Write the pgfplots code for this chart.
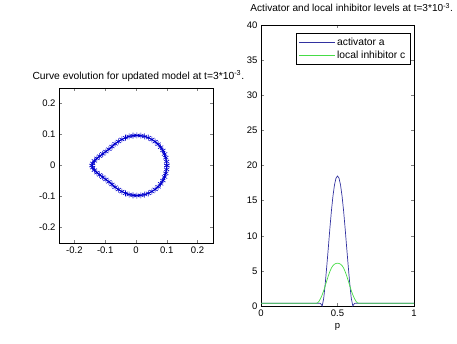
\documentclass[border=0pt]{standalone}
\usepackage{fontspec}
\setmainfont{Liberation Sans}
\usepackage{pgfplots}
\pgfplotsset{compat=1.18}
\definecolor{actblue}{RGB}{50,50,160}
\definecolor{inhgreen}{RGB}{70,220,70}
\definecolor{curveblue}{RGB}{0,0,205}
\pgfplotstableread{
x y
0.100 0.000
0.0992 0.0127
0.0967 0.0251
0.0926 0.0371
0.0870 0.0485
0.0800 0.0591
0.0716 0.0686
0.0621 0.0770
0.0515 0.0840
0.0401 0.0896
0.0281 0.0937
0.0157 0.0962
0.0030 0.0970
-0.0097 0.0962
-0.0221 0.0937
-0.0341 0.0896
-0.046 0.0840
-0.057 0.0775
-0.068 0.0700
-0.078 0.0610
-0.088 0.0525
-0.098 0.0450
-0.108 0.0375
-0.118 0.0300
-0.127 0.0230
-0.135 0.0150
-0.141 0.0070
-0.143 0.0000
-0.141 -0.0070
-0.135 -0.0150
-0.127 -0.0230
-0.118 -0.0300
-0.108 -0.0375
-0.098 -0.0450
-0.088 -0.0525
-0.078 -0.0610
-0.068 -0.0700
-0.057 -0.0775
-0.046 -0.0840
-0.0341 -0.0896
-0.0221 -0.0937
-0.0097 -0.0962
0.0030 -0.0970
0.0157 -0.0962
0.0281 -0.0937
0.0401 -0.0896
0.0515 -0.0840
0.0621 -0.0770
0.0716 -0.0686
0.0800 -0.0591
0.0870 -0.0485
0.0926 -0.0371
0.0967 -0.0251
0.0992 -0.0127
0.100 0.000
}\curvedata
\pgfplotstableread{
p a
0 0.4
0.385 0.4
0.393 0.25
0.400 0.0
0.410 1.1
0.420 3.2
0.430 5.7
0.440 8.3
0.450 11.0
0.460 13.5
0.470 15.6
0.480 17.2
0.490 18.2
0.500 18.5
0.510 18.2
0.520 17.2
0.530 15.6
0.540 13.5
0.550 11.0
0.560 8.3
0.570 5.7
0.580 3.2
0.590 1.1
0.600 0.0
0.607 0.25
0.615 0.4
1 0.4
}\activator
\pgfplotstableread{
p c
0 0.4
0.362 0.4
0.37 0.45
0.38 0.7
0.39 1.1
0.40 1.6
0.41 2.2
0.42 2.9
0.43 3.6
0.44 4.3
0.45 4.9
0.46 5.4
0.47 5.75
0.48 5.95
0.49 6.05
0.50 6.1
0.51 6.05
0.52 5.95
0.53 5.75
0.54 5.4
0.55 4.9
0.56 4.3
0.57 3.6
0.58 2.9
0.59 2.2
0.60 1.6
0.61 1.1
0.62 0.7
0.63 0.45
0.638 0.4
1 0.4
}\inhibitor
\begin{document}
\begin{tikzpicture}
\path[use as bounding box] (0pt,0pt) rectangle (457pt,343pt);
\pgfplotsset{every axis/.append style={
  scale only axis,
  tick align=inside,
  major tick length=3pt,
  axis line style={line width=0.5pt},
  tick style={line width=0.5pt},
  tick label style={font=\fontsize{9.5}{11}\selectfont},
  /pgf/number format/assume math mode=true,
}}
% left axis
\begin{axis}[
  at={(59pt,100pt)}, anchor=south west,
  width=154pt, height=155pt,
  xmin=-0.25, xmax=0.25, ymin=-0.25, ymax=0.25,
  xtick={-0.2,-0.1,0,0.1,0.2},
  ytick={-0.2,-0.1,0,0.1,0.2},
  title={Curve evolution for updated model at t=3*10\textsuperscript{-3}.},
  title style={anchor=base west, yshift=-6pt, at={(axis description cs:-0.195,1.056)}, font=\fontsize{10.3}{12}\selectfont},
]
\addplot[curveblue, line width=0.9pt, mark=asterisk, mark size=3pt, mark options={line width=0.6pt}] table[x=x,y=y] {\curvedata};
\end{axis}
% right axis
\begin{axis}[
  at={(261pt,37pt)}, anchor=south west,
  width=153pt, height=281pt,
  xmin=0, xmax=1, ymin=0, ymax=40,
  xtick={0,0.5,1},
  ytick={0,5,10,15,20,25,30,35,40},
  xlabel={p},
  xlabel style={at={(axis description cs:0.5,-0.075)}, anchor=center, font=\fontsize{9.5}{11}\selectfont},
  title={Activator and local inhibitor levels at t=3*10\textsuperscript{-3}.},
  title style={anchor=base west, yshift=-6pt, at={(axis description cs:-0.092,1.047)}, font=\fontsize{10.1}{12}\selectfont},
  legend style={at={(axis description cs:0.974,0.972)}, anchor=north east, draw=black, fill=white,
    font=\fontsize{10.3}{12}\selectfont, row sep=0.5pt, inner sep=2.5pt},
  legend cell align=left,
  legend image code/.code={\draw[#1] (0pt,0pt) -- (36pt,0pt);},
]
\addplot[actblue, line width=0.7pt] table[x=p,y=a] {\activator};
\addlegendentry{activator a}
\addplot[inhgreen, line width=0.7pt] table[x=p,y=c] {\inhibitor};
\addlegendentry{local inhibitor c}
\end{axis}
\end{tikzpicture}
\end{document}
